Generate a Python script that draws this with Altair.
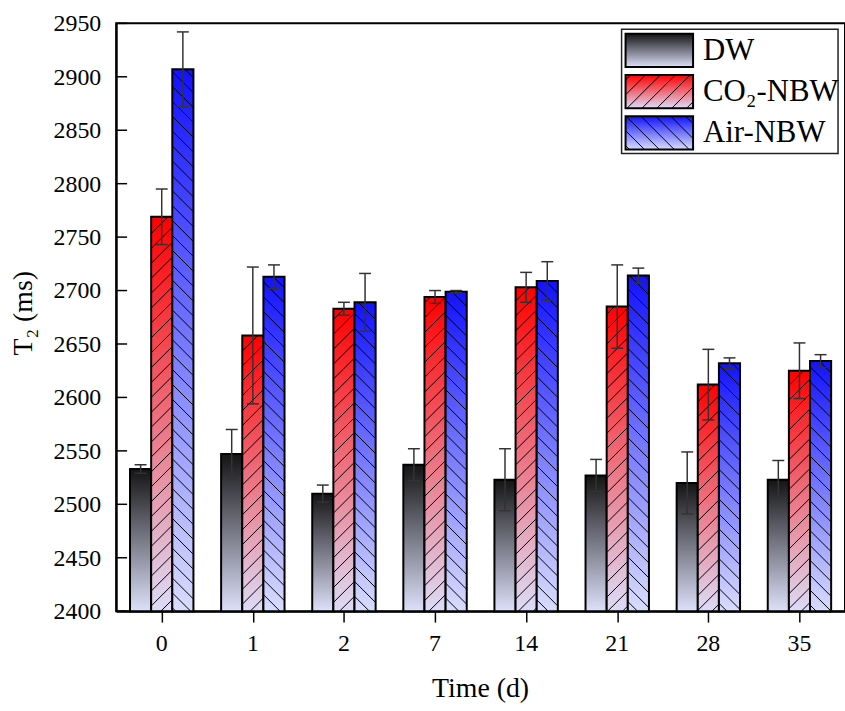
import json
import math
import altair as alt
import pandas as pd

# ---------------- data ----------------
times = ["0", "1", "2", "7", "14", "21", "28", "35"]
series = ["DW", "CO₂-NBW", "Air-NBW"]

dw = [2533, 2547, 2510, 2537, 2523, 2527, 2520, 2523]
dw_err = [4, 23, 8, 15, 29, 15, 29, 18]
co2 = [2769, 2658, 2683, 2694, 2703, 2685, 2612, 2625]
co2_err = [26, 64, 6, 6, 14, 39, 33, 26]
air = [2907, 2713, 2689, 2699, 2709, 2714, 2632, 2634]
air_err = [35, 11, 27, 1, 18, 7, 5, 6]

y_ticks = [2400, 2450, 2500, 2550, 2600, 2650, 2700, 2750, 2800, 2850, 2900, 2950]

values = [dw, co2, air]
errors = [dw_err, co2_err, air_err]

# ---------------- layout / style ----------------
W, H = 734, 592
Y_MIN, Y_MAX = 2400, 2950
X_MIN, X_MAX = -0.5, 7.5
PX_X = W / (X_MAX - X_MIN)
PX_Y = H / (Y_MAX - Y_MIN)
BAR_W = 0.232
HATCH_SP = 15.0
CAP = 6.0 / PX_X
FONT = "Liberation Serif"

def grad(top, bottom):
    return alt.Gradient(
        gradient="linear",
        stops=[alt.GradientStop(offset=0, color=top),
               alt.GradientStop(offset=1, color=bottom)],
        x1=0, x2=0, y1=0, y2=1,
    )

fills = [grad("#141414", "#dde0fa"), grad("#ff0000", "#dcdcf8"), grad("#1212ff", "#d9ddfc")]
hatch_dir = [0, 1, -1]  # 0 none, 1 "/", -1 "\"


def hatch(x0, x1, y0, y1, sp, s):
    """45-degree hatch segments clipped to a rectangle (math coords, y up)."""
    segs = []
    if s == 1:
        cmin, cmax = y0 - x1, y1 - x0
    else:
        cmin, cmax = y0 + x0, y1 + x1
    k = math.floor(cmin / sp)
    while k * sp <= cmax:
        c = k * sp
        if s == 1:
            a, b = max(x0, y0 - c), min(x1, y1 - c)
        else:
            a, b = max(x0, c - y1), min(x1, c - y0)
        if b - a > 0.6:
            segs.append((a, s * a + c, b, s * b + c))
        k += 1
    return segs


x_scale = alt.Scale(domain=[X_MIN, X_MAX], nice=False, zero=False)
y_scale = alt.Scale(domain=[Y_MIN, Y_MAX], nice=False, zero=False)

x_axis = alt.Axis(
    values=list(range(len(times))), labels=False, title=None,
    tickSize=11, tickWidth=1.5, tickColor="black",
    domainColor="black", domainWidth=2, grid=False,
)
y_axis = alt.Axis(
    values=y_ticks, labels=False, title=None, ticks=False, tickSize=0,
    domainColor="black", domainWidth=2, grid=False,
)


def X(field):
    return alt.X(field, scale=x_scale, axis=x_axis)


def Y(field):
    return alt.Y(field, scale=y_scale, axis=y_axis)


layers = []
hatch_rows = []
err_rows = []

for j, name in enumerate(series):
    rows = []
    for i, t in enumerate(times):
        v = values[j][i]
        e = errors[j][i]
        xd0 = i - 1.5 * BAR_W + j * BAR_W
        xd1 = xd0 + BAR_W
        xc = (xd0 + xd1) / 2
        rows.append({"time": t, "x0": xd0, "x1": xd1, "base": Y_MIN, "value": v})
        err_rows.append({"xc": xc, "lo": v - e, "hi": v + e, "cl": xc - CAP, "cr": xc + CAP})
        if hatch_dir[j] != 0:
            X0 = (xd0 - X_MIN) * PX_X
            X1 = (xd1 - X_MIN) * PX_X
            Y1 = (v - Y_MIN) * PX_Y
            for (a, ya, b, yb) in hatch(X0, X1, 0.0, Y1, HATCH_SP, hatch_dir[j]):
                hatch_rows.append({
                    "hx0": a / PX_X + X_MIN, "hx1": b / PX_X + X_MIN,
                    "hy0": ya / PX_Y + Y_MIN, "hy1": yb / PX_Y + Y_MIN,
                })
    df = pd.DataFrame(rows)
    layers.append(
        alt.Chart(df).mark_rect(fill=fills[j], stroke="black", strokeWidth=2).encode(
            x=X("x0:Q"), x2="x1:Q", y=Y("value:Q"), y2="base:Q",
        )
    )

hatch_df = pd.DataFrame(hatch_rows)
layers.append(
    alt.Chart(hatch_df).mark_rule(color="black", strokeWidth=1).encode(
        x=X("hx0:Q"), x2="hx1:Q", y=Y("hy0:Q"), y2="hy1:Q",
    )
)

err_df = pd.DataFrame(err_rows)
err_color = "#333333"
layers.append(
    alt.Chart(err_df).mark_rule(color=err_color, strokeWidth=1.5).encode(
        x=X("xc:Q"), y=Y("lo:Q"), y2="hi:Q",
    )
)
for col in ["lo", "hi"]:
    layers.append(
        alt.Chart(err_df).mark_rule(color=err_color, strokeWidth=1.5).encode(
            x=X("cl:Q"), x2="cr:Q", y=Y(f"{col}:Q"),
        )
    )

# inward y ticks and tick labels
tick_df = pd.DataFrame({"t": y_ticks, "label": [str(v) for v in y_ticks]})
layers.append(
    alt.Chart(tick_df).mark_rule(color="black", strokeWidth=1.5).encode(
        y=Y("t:Q"), x=alt.value(0), x2=alt.value(11),
    )
)
layers.append(
    alt.Chart(tick_df).mark_text(
        font=FONT, fontSize=24, color="black", align="right", baseline="alphabetic", dy=8
    ).encode(y=Y("t:Q"), x=alt.value(-15), text="label:N")
)

xlab_df = pd.DataFrame({"i": list(range(len(times))), "label": times})
layers.append(
    alt.Chart(xlab_df).mark_text(
        font=FONT, fontSize=24, color="black", align="center", baseline="alphabetic"
    ).encode(x=X("i:Q"), y=alt.value(H + 40), text="label:N")
)

# axis titles
layers.append(
    alt.Chart(pd.DataFrame({"t": ["Time (d)"]})).mark_text(
        font=FONT, fontSize=28, color="black", align="center", baseline="alphabetic"
    ).encode(x=alt.value(W / 2), y=alt.value(H + 86), text="t:N")
)
layers.append(
    alt.Chart(pd.DataFrame({"t": ["T₂ (ms)"]})).mark_text(
        font=FONT, fontSize=28, color="black", align="center", baseline="alphabetic", angle=270
    ).encode(x=alt.value(-85), y=alt.value(H / 2 - 4), text="t:N")
)

# ---------------- legend ----------------
LEG = dict(x0=509, x1=727, y0=6, y1=131)
SW_X0, SW_X1 = 513, 581
ROW_TOP, ROW_PITCH, SW_H = 10.5, 41.5, 33.5
TXT_X = 591

one = pd.DataFrame({"k": [0]})
layers.append(
    alt.Chart(one).mark_rect(fill="white", stroke="#222222", strokeWidth=1.5).encode(
        x=alt.value(LEG["x0"]), x2=alt.value(LEG["x1"]),
        y=alt.value(LEG["y0"]), y2=alt.value(LEG["y1"]),
    )
)

leg_hatch = []
for j, name in enumerate(series):
    top = ROW_TOP + j * ROW_PITCH
    bot = top + SW_H
    layers.append(
        alt.Chart(one).mark_rect(fill=fills[j], stroke="black", strokeWidth=2).encode(
            x=alt.value(SW_X0), x2=alt.value(SW_X1),
            y=alt.value(top), y2=alt.value(bot),
        )
    )
    if hatch_dir[j] != 0:
        # pixel space has y pointing down, so flip the direction
        for (a, ya, b, yb) in hatch(SW_X0, SW_X1, top, bot, HATCH_SP, -hatch_dir[j]):
            leg_hatch.append({"px0": a, "px1": b, "py0": ya, "py1": yb})
    layers.append(
        alt.Chart(pd.DataFrame({"name": [name]})).mark_text(
            font=FONT, fontSize=31, color="black", align="left", baseline="alphabetic"
        ).encode(
            x=alt.value(TXT_X), y=alt.value(top + 26), text="name:N",
        )
    )

leg_hatch_df = pd.DataFrame(leg_hatch)
layers.append(
    alt.Chart(leg_hatch_df).mark_rule(color="black", strokeWidth=1).encode(
        x=alt.X("px0:Q", scale=None, axis=None), x2="px1:Q",
        y=alt.Y("py0:Q", scale=None, axis=None), y2="py1:Q",
    )
)

chart = alt.layer(*layers).properties(
    width=W, height=H,
    autosize=alt.AutoSizeParams(type="none"),
    padding={"left": 117, "top": 21, "right": 0, "bottom": 98},
    background="white",
).configure_view(stroke="black", strokeWidth=2)

chart.save("out.html", embed_options={"renderer": "svg", "actions": False})
